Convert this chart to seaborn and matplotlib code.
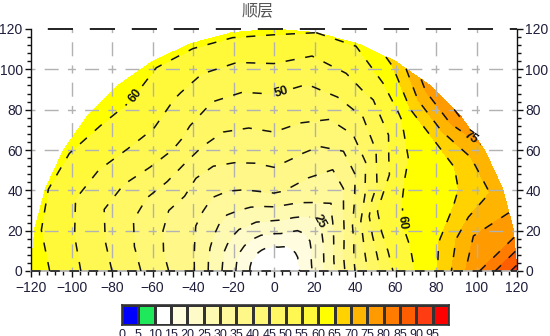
import numpy as np
import matplotlib
matplotlib.use("Agg")
import matplotlib.pyplot as plt
import seaborn as sns
from matplotlib.colors import ListedColormap
from matplotlib.ticker import MultipleLocator

# ---------------- data ----------------
title = "顺层"
angles_deg = [0, 10, 20, 30, 40, 50, 60, 70, 80, 90,
              100, 110, 120, 130, 140, 150, 160, 170, 180]
radii = [0, 12, 25, 40, 60, 80, 100, 120]
# one row per angle, one column per radius
values_by_angle = [
    [11, 14.5, 25.0, 40.0, 56.0, 64.5, 79.0, 92.0],   # 0
    [11, 14.5, 25.0, 40.0, 57.5, 63.5, 75.0, 77.0],   # 10
    [11, 14.5, 24.0, 38.0, 58.5, 62.5, 66.0, 72.0],   # 20
    [11, 14.0, 22.5, 35.0, 56.0, 62.0, 63.5, 74.0],   # 30
    [11, 14.0, 21.0, 31.5, 46.0, 58.5, 63.0, 80.5],   # 40
    [11, 14.0, 20.5, 28.0, 38.5, 51.0, 61.0, 78.0],   # 50
    [11, 14.0, 21.0, 30.5, 35.5, 46.0, 56.0, 66.5],   # 60
    [11, 14.5, 23.0, 32.5, 38.0, 45.0, 53.5, 60.5],   # 70
    [11, 15.0, 24.5, 34.5, 41.0, 46.5, 51.5, 60.0],   # 80
    [11, 15.0, 25.0, 36.0, 43.0, 47.5, 54.0, 61.0],   # 90
    [11, 15.0, 25.0, 35.0, 42.0, 47.0, 53.0, 61.0],   # 100
    [11, 15.0, 24.5, 34.0, 41.0, 47.0, 53.5, 61.0],   # 110
    [11, 15.0, 24.5, 33.0, 40.0, 49.0, 55.5, 61.0],   # 120
    [11, 15.0, 24.0, 32.0, 40.0, 51.0, 57.5, 62.5],   # 130
    [11, 15.0, 24.0, 32.5, 41.0, 50.0, 57.0, 62.0],   # 140
    [11, 15.0, 24.0, 33.5, 40.0, 48.0, 55.0, 61.0],   # 150
    [11, 15.0, 24.0, 34.5, 40.5, 47.0, 53.5, 60.5],   # 160
    [11, 15.0, 24.5, 35.0, 41.5, 48.5, 55.0, 61.0],   # 170
    [11, 15.0, 24.5, 35.5, 43.0, 50.0, 56.5, 63.0],   # 180
]
levels = list(range(0, 105, 5))
band_colors = ["#0000ff", "#1fe85a", "#ffffff", "#fffce0", "#fffbc8",
               "#fffab2", "#fff99c", "#fff888", "#fff876", "#fff764",
               "#fff852", "#fff93a", "#ffff00", "#ffd200", "#ffb400",
               "#ff9a00", "#ff7c00", "#ff5e00", "#ff3c12", "#ff0000"]
label_levels = [25, 50, 60, 75]
line_levels = [v for v in range(15, 100, 5) if v not in label_levels]
label_points = [(-66, 85), (4, 88), (21, 24), (61, 24), (97, 66)]
x_ticks = list(range(-120, 121, 20))
y_ticks = list(range(0, 121, 20))
cbar_labels = [str(v) for v in levels[:-1]]

# ---------------- style ----------------
sns.set_theme(style="white")
plt.rcParams['font.family'] = ['Liberation Sans', 'Noto Sans CJK SC', 'DejaVu Sans']
tick_color = '#1e1e3c'

W, H = 550, 336
fig = plt.figure(figsize=(W / 100, H / 100), dpi=100)
fig.patch.set_facecolor('white')
ax = fig.add_axes([31 / W, 65 / H, 486 / W, 242 / H])
ax.set_facecolor('white')

th = np.radians(angles_deg)
R, TH = np.meshgrid(radii, th)
X = R * np.cos(TH)
Y = R * np.sin(TH)
Z = np.array(values_by_angle, dtype=float)

ax.contourf(X, Y, Z, levels=levels, colors=band_colors, zorder=1)

# grid lines (gray, long dashes with crosses at intersections)
pt = 0.72
grid_ls = (4 * pt, (8 * pt, 9.2 * pt, 14 * pt, 9.2 * pt))
for xv in x_ticks[1:-1]:
    ax.axvline(xv, color='#b2b2b2', lw=1.0, linestyle=grid_ls, zorder=2)
for yv in y_ticks[1:-1]:
    ax.axhline(yv, color='#b2b2b2', lw=1.0, linestyle=grid_ls, zorder=2)

# dashed top and bottom borders
ax.axhline(120, color='#222222', lw=1.4, linestyle=(18 * pt, (18 * pt, 12 * pt)),
           zorder=4, clip_on=False)
ax.axhline(0, color='#222222', lw=1.2, linestyle=(0, (8 * pt, 8 * pt)),
           zorder=4, clip_on=False)

line_style = [(0, (6, 7))]
ax.contour(X, Y, Z, levels=line_levels, colors='#111111', linewidths=1.1,
           linestyles=line_style, zorder=3)
cs_lab = ax.contour(X, Y, Z, levels=label_levels, colors='#111111', linewidths=1.1,
                    linestyles=line_style, zorder=3)
texts = cs_lab.clabel(manual=label_points, inline=True, fmt='%d', fontsize=9)
for t in texts:
    t.set_fontweight('bold')
    t.set_color('#111111')

ax.set_xlim(-120, 120)
ax.set_ylim(0, 120)
ax.set_xticks(x_ticks)
ax.set_yticks(y_ticks)
ax.xaxis.set_minor_locator(MultipleLocator(4))
ax.yaxis.set_minor_locator(MultipleLocator(4))
ax.tick_params(axis='x', which='both', direction='out', bottom=True, top=False,
               color='#111111', labelcolor=tick_color, labelsize=10, pad=2.5)
ax.tick_params(axis='y', which='both', direction='out', left=True, right=True,
               labelleft=True, labelright=True, color='#111111',
               labelcolor=tick_color, labelsize=10, pad=1.5)
ax.tick_params(which='major', length=4.5, width=1.0)
ax.tick_params(which='minor', length=3.0, width=1.0)
ax.grid(False)
ax.spines['top'].set_visible(False)
ax.spines['bottom'].set_color('#b0b0b0')
for s in ('left', 'right'):
    ax.spines[s].set_color('#111111')
    ax.spines[s].set_linewidth(1.0)

fig.text(258 / W, 1 - 11 / H, title, ha='center', va='center', fontsize=11.5,
         color='#555555', family=['Noto Sans CJK SC', 'DejaVu Sans'])

# colour legend strip drawn as a seaborn heatmap
cax = fig.add_axes([122 / W, 11 / H, 327 / W, 20 / H])
strip = np.arange(len(band_colors)).reshape(1, -1)
sns.heatmap(strip, ax=cax, cmap=ListedColormap(band_colors), vmin=-0.5,
            vmax=len(band_colors) - 0.5, cbar=False, linewidths=1.0,
            linecolor='#333333', xticklabels=False, yticklabels=False)
for s in cax.spines.values():
    s.set_visible(True)
    s.set_color('#333333')
    s.set_linewidth(1.2)
cax.set_xticks(np.arange(len(cbar_labels)))
cax.set_xticklabels(cbar_labels, fontsize=9, color=tick_color)
cax.tick_params(axis='x', length=0, pad=3, bottom=True)

fig.savefig('out.png', dpi=100, facecolor='white')
